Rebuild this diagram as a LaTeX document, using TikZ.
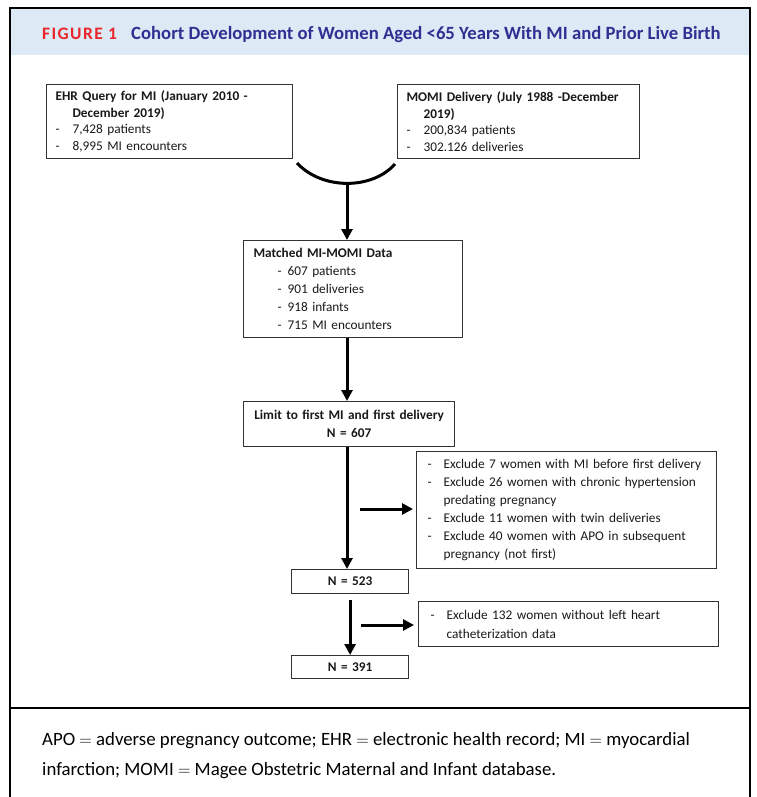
\documentclass[tikz,border=0pt]{standalone}
\usepackage{fontspec}
\setmainfont{Carlito}
\newfontfamily\capsfont{Carlito}[LetterSpace=8]
\usetikzlibrary{arrows.meta}
\definecolor{bandblue}{RGB}{221,233,245}
\definecolor{figred}{RGB}{232,38,44}
\definecolor{titlenavy}{RGB}{46,49,146}
\definecolor{boxgray}{RGB}{51,51,51}
\newcommand{\dashitem}[1]{\makebox[#1][l]{-}}
\begin{document}
\begin{tikzpicture}[x=1pt, y=-1pt,
        box/.style={draw=boxgray, line width=1.2pt, anchor=north west, align=left, inner xsep=9pt, inner ysep=0pt, text=black!90, font=\fontsize{13.3}{18}\selectfont},
        nbox/.style={box, align=center, inner xsep=0pt},
        arr/.style={line width=3pt, -{Triangle[length=11pt,width=11pt]}},
        note/.style={anchor=base west, inner sep=0pt, font=\fontsize{18.8}{30}\selectfont}]
        \useasboundingbox (0,0) rectangle (756,797);
        \fill[bandblue] (11,9) rectangle (749,55);
        \draw[line width=2pt] (10,797) -- (10,8) -- (750,8) -- (750,797);
        \draw[line width=2pt] (10,708) -- (750,708);
        \node[anchor=base west, inner sep=0pt, text=figred, font=\fontsize{17.5}{17.5}\selectfont] (fig) at (42,39.5) {\capsfont\bfseries FIGURE 1};
        \node[anchor=base west, inner sep=0pt, text=titlenavy, font=\fontsize{18.7}{18.7}\selectfont\bfseries] (title) at (131,39.5) {Cohort Development of Women Aged <65 Years With MI and Prior Live Birth};
        \node[box, text width=228pt, minimum height=74pt, font=\fontsize{13.3}{16.5}\selectfont] (ehr) at (46,84) {\textbf{EHR Query for MI (January 2010 -}\\
                \hspace*{17pt}\textbf{December 2019)}\\
                \dashitem{17pt}7,428 patients\\
                \dashitem{17pt}8,995 MI encounters};
        \node[box, text width=224pt, minimum height=74pt, font=\fontsize{13.3}{16.5}\selectfont] (momi) at (397,84) {\textbf{MOMI Delivery (July 1988 -December}\\
                \hspace*{17pt}\textbf{2019)}\\
                \dashitem{17pt}200,834 patients\\
                \dashitem{17pt}302.126 deliveries};
        \coordinate (cl) at (297,163);
        \coordinate (cr) at (395,164);
        \coordinate (cb) at (347,183);
        \draw[line width=3pt] (cl) .. controls (322,190) and (372,190) .. (cr);
        \node[box, inner xsep=10pt, text width=199pt, minimum height=97pt] (match) at (243,240) {\textbf{Matched MI-MOMI Data}\\
                \hspace*{24pt}\dashitem{10pt}607 patients\\
                \hspace*{24pt}\dashitem{10pt}901 deliveries\\
                \hspace*{24pt}\dashitem{10pt}918 infants\\
                \hspace*{24pt}\dashitem{10pt}715 MI encounters};
        \node[nbox, text width=211pt, minimum height=45pt] (limit) at (243,401) {\textbf{Limit to first MI and first delivery}\\ \textbf{N = 607}};
        \node[box, inner xsep=11pt, text width=278pt, minimum height=117pt] (excl) at (416,451) {\dashitem{16pt}Exclude 7 women with MI before first delivery\\
                \dashitem{16pt}Exclude 26 women with chronic hypertension\\
                \hspace*{16pt}predating pregnancy\\
                \dashitem{16pt}Exclude 11 women with twin deliveries\\
                \dashitem{16pt}Exclude 40 women with APO in subsequent\\
                \hspace*{16pt}pregnancy (not first)};
        \node[nbox, text width=117pt, minimum height=24pt] (n523) at (291,569) {\textbf{N = 523}};
        \node[box, inner xsep=12pt, text width=276pt, minimum height=45pt, font=\fontsize{13.3}{19}\selectfont] (excltwo) at (418,601) {\dashitem{16pt}Exclude 132 women without left heart\\
                \hspace*{16pt}catheterization data};
        \node[nbox, text width=117pt, minimum height=23pt] (n391) at (291,655) {\textbf{N = 391}};
        \coordinate (ha) at (360,509);
        \coordinate (hb) at (361,625);
        \draw[arr] (cb) -- (cb |- match.north);
        \draw[arr] (cb |- match.south) -- (cb |- limit.north);
        \draw[arr] (cb |- limit.south) -- (cb |- n523.north);
        \draw[arr, shorten <=6pt] (n523.south) -- (n391.north);
        \draw[arr, shorten >=3pt] (ha) -- (ha -| excl.west);
        \draw[arr, shorten >=4pt] (hb) -- (hb -| excltwo.west);
        \node[note] (noteone) at (42,745) {APO $=$ adverse pregnancy outcome; EHR $=$ electronic health record; MI $=$ myocardial};
        \node[note] (notetwo) at (42,775) {infarction; MOMI $=$ Magee Obstetric Maternal and Infant database.};
\end{tikzpicture}
\end{document}
